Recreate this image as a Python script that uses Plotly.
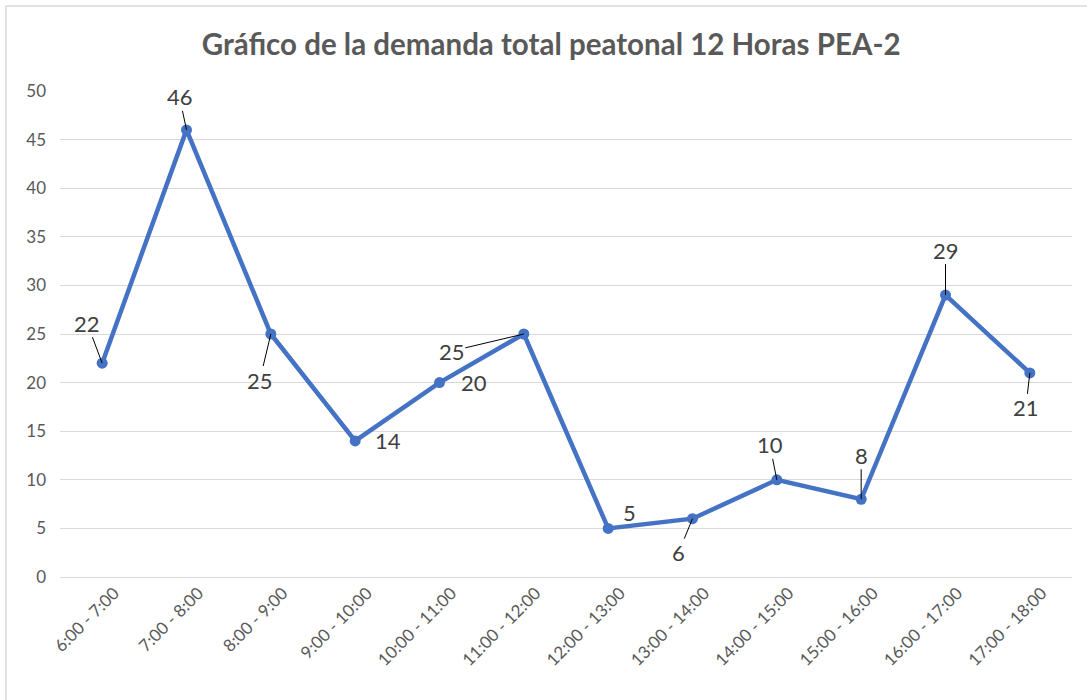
import plotly.graph_objects as go

categories = ["6:00 - 7:00", "7:00 - 8:00", "8:00 - 9:00", "9:00 - 10:00",
              "10:00 - 11:00", "11:00 - 12:00", "12:00 - 13:00", "13:00 - 14:00",
              "14:00 - 15:00", "15:00 - 16:00", "16:00 - 17:00", "17:00 - 18:00"]
values = [22, 46, 25, 14, 20, 25, 5, 6, 10, 8, 29, 21]
y_ticks = [0, 5, 10, 15, 20, 25, 30, 35, 40, 45, 50]
title_text = "Gráfico de la demanda total peatonal 12 Horas PEA-2"

# label offsets (pixels, ax/ay) and whether a leader line is drawn
label_offsets = [(-15, -40, True), (-7, -33, True), (-11, 46, True), (33, 0, False),
                 (34, 0, False), (-72, 17, True), (21, -16, False), (-14, 34, True),
                 (-7, -35, True), (0, -44, True), (0, -45, True), (-4, 35, True)]

FONT = "Lato, Noto Sans, Liberation Sans, Arial"
LABEL_FONT = dict(size=22, color="#404040", family=FONT)

fig = go.Figure()
fig.add_trace(go.Scatter(
    x=categories, y=values, mode="lines+markers",
    line=dict(color="#4472C4", width=4.5),
    marker=dict(color="#4472C4", size=11),
    hoverinfo="x+y", showlegend=False,
))

annotations = []
for c, v, (dx, dy, leader) in zip(categories, values, label_offsets):
    if leader:
        annotations.append(dict(
            x=c, y=v, xref="x", yref="y", text=str(v), showarrow=True,
            ax=dx, ay=dy, arrowhead=0, arrowwidth=1, arrowcolor="#000000",
            standoff=0, font=LABEL_FONT, borderpad=0,
        ))
    else:
        annotations.append(dict(
            x=c, y=v, xref="x", yref="y", text=str(v), showarrow=False,
            xshift=dx, yshift=-dy, font=LABEL_FONT,
        ))

fig.update_layout(
    width=1087, height=700,
    paper_bgcolor="white", plot_bgcolor="white",
    margin=dict(l=60, r=15, t=91, b=123),
    title=dict(text="<b>" + title_text + "</b>", x=0.507, xanchor="center",
               y=1 - 45 / 700, yanchor="middle",
               font=dict(size=29.5, color="#595959", family=FONT)),
    xaxis=dict(type="category", range=[-0.5, 11.5], tickangle=-45,
               showgrid=False, showline=False, zeroline=False, ticks="",
               ticklabelstandoff=2, ticklabelshift=12,
               tickfont=dict(size=17, color="#595959", family=FONT)),
    yaxis=dict(range=[0, 50], tickvals=y_ticks, showgrid=True, gridcolor="#d9d9d9",
               gridwidth=1, zeroline=True, zerolinecolor="#d9d9d9", zerolinewidth=1,
               showline=False, ticks="", ticklabelstandoff=13,
               tickfont=dict(size=17, color="#595959", family=FONT)),
    annotations=annotations,
    shapes=[dict(type="rect", xref="paper", yref="paper",
                 x0=-0.0534, x1=1.2, y0=-0.5, y1=1.1749,
                 line=dict(color="#d9d9d9", width=1.5), layer="below")],
)

fig.write_html("out.html", config={"displayModeBar": False},
               post_script="document.body.style.margin='0';")
